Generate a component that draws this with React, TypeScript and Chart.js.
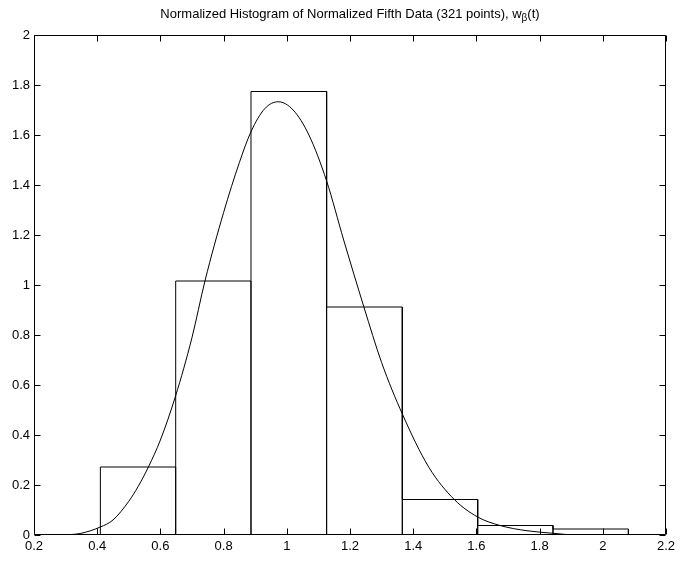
import React, { useEffect, useRef } from "react";
import { Chart, registerables } from "chart.js";

Chart.register(...registerables);

// Histogram bins (edges) and normalized heights
const binEdges = [0.41, 0.6484, 0.8867, 1.126, 1.3655, 1.6041, 1.8424, 2.081];
const binHeights = [0.272, 1.016, 1.774, 0.912, 0.142, 0.038, 0.024];

// Fitted density curve w_beta(t)
const curveX = [
  0.29, 0.346, 0.41, 0.45, 0.5, 0.53, 0.562, 0.6, 0.648, 0.7, 0.741, 0.8, 0.85,
  0.887, 0.93, 0.973, 1.02, 1.07, 1.126, 1.18, 1.244, 1.3, 1.366, 1.45, 1.53,
  1.604, 1.675, 1.76, 1.842, 1.9,
];
const curveY = [
  0, 0.006, 0.032, 0.06, 0.135, 0.195, 0.272, 0.38, 0.556, 0.79, 1.016, 1.29, 1.49,
  1.614, 1.705, 1.733, 1.7, 1.6, 1.416, 1.18, 0.912, 0.69, 0.483, 0.27, 0.142,
  0.072, 0.038, 0.017, 0.007, 0,
];

const xTicks = [0.2, 0.4, 0.6, 0.8, 1, 1.2, 1.4, 1.6, 1.8, 2, 2.2];
const yTicks = [0, 0.2, 0.4, 0.6, 0.8, 1, 1.2, 1.4, 1.6, 1.8, 2];

const titleMain = "Normalized Histogram of Normalized Fifth Data (321 points), w";
const titleSub = "\u03B2";
const titleTail = "(t)";

const FONT = "'Liberation Sans', Arial, Helvetica, sans-serif";
const TICK_LEN = 6;

const fmt = (v: number) => {
  const r = Math.round(v * 10) / 10;
  return String(r);
};

const boxPlugin = {
  id: "matlabBox",
  afterDraw(chart: any) {
    const { ctx, chartArea } = chart;
    const { left, right, top, bottom } = chartArea;
    const xs = chart.scales.x;
    const ys = chart.scales.y;
    ctx.save();
    ctx.strokeStyle = "#000";
    ctx.lineWidth = 1;
    const L = Math.round(left) + 0.5;
    const R = Math.round(right) - 0.5;
    const T = Math.round(top) + 0.5;
    const B = Math.round(bottom) - 0.5;
    ctx.beginPath();
    ctx.rect(L, T, R - L, B - T);
    ctx.stroke();
    ctx.beginPath();
    xTicks.forEach((v) => {
      const px = Math.round(xs.getPixelForValue(v)) + 0.5;
      ctx.moveTo(px, B);
      ctx.lineTo(px, B - TICK_LEN);
      ctx.moveTo(px, T);
      ctx.lineTo(px, T + TICK_LEN);
    });
    yTicks.forEach((v) => {
      const py = Math.round(ys.getPixelForValue(v)) + 0.5;
      ctx.moveTo(L, py);
      ctx.lineTo(L + TICK_LEN, py);
      ctx.moveTo(R, py);
      ctx.lineTo(R - TICK_LEN, py);
    });
    ctx.stroke();

    // Title with subscript
    const mainFont = `13px ${FONT}`;
    const subFont = `10px ${FONT}`;
    ctx.fillStyle = "#000";
    ctx.textBaseline = "alphabetic";
    ctx.textAlign = "left";
    ctx.font = mainFont;
    const w1 = ctx.measureText(titleMain).width;
    const w3 = ctx.measureText(titleTail).width;
    ctx.font = subFont;
    const w2 = ctx.measureText(titleSub).width;
    const total = w1 + w2 + w3;
    const cx = (left + right) / 2;
    let x = cx - total / 2;
    const baseY = 18;
    ctx.font = mainFont;
    ctx.fillText(titleMain, x, baseY);
    x += w1;
    ctx.font = subFont;
    ctx.fillText(titleSub, x, baseY + 3);
    x += w2;
    ctx.font = mainFont;
    ctx.fillText(titleTail, x, baseY);
    ctx.restore();
  },
};

export default function App() {
  const canvasRef = useRef<HTMLCanvasElement | null>(null);

  useEffect(() => {
    const canvas = canvasRef.current;
    if (!canvas) return;

    const histPoints: { x: number; y: number }[] = [];
    for (let i = 0; i < binHeights.length; i++) {
      histPoints.push({ x: binEdges[i], y: 0 });
      histPoints.push({ x: binEdges[i], y: binHeights[i] });
      histPoints.push({ x: binEdges[i + 1], y: binHeights[i] });
      histPoints.push({ x: binEdges[i + 1], y: 0 });
    }
    const curvePoints = curveX.map((x, i) => ({ x, y: curveY[i] }));

    const chart = new Chart(canvas, {
      type: "line",
      data: {
        datasets: [
          {
            label: "histogram",
            data: histPoints,
            borderColor: "#000",
            borderWidth: 1,
            pointRadius: 0,
            tension: 0,
            fill: false,
          },
          {
            label: "w_beta(t)",
            data: curvePoints,
            borderColor: "#000",
            borderWidth: 1,
            pointRadius: 0,
            cubicInterpolationMode: "monotone",
            fill: false,
          },
        ],
      },
      options: {
        animation: false,
        responsive: false,
        maintainAspectRatio: false,
        devicePixelRatio: 1,
        layout: { padding: { top: 35, right: 14, left: 0, bottom: 0 } },
        plugins: {
          legend: { display: false },
          tooltip: { enabled: false },
          title: { display: false },
        },
        scales: {
          x: {
            type: "linear",
            min: 0.2,
            max: 2.2,
            afterBuildTicks: (scale: any) => {
              scale.ticks = xTicks.map((v) => ({ value: v }));
            },
            afterFit: (scale: any) => {
              scale.height = 28;
            },
            grid: { display: false, drawTicks: false },
            border: { display: false },
            ticks: {
              autoSkip: false,
              maxRotation: 0,
              padding: 4,
              color: "#000",
              font: { family: FONT, size: 13 },
              callback: (v: any) => fmt(Number(v)),
            },
          },
          y: {
            type: "linear",
            min: 0,
            max: 2,
            afterBuildTicks: (scale: any) => {
              scale.ticks = yTicks.map((v) => ({ value: v }));
            },
            afterFit: (scale: any) => {
              scale.width = 34;
            },
            grid: { display: false, drawTicks: false },
            border: { display: false },
            ticks: {
              autoSkip: false,
              padding: 4,
              color: "#000",
              font: { family: FONT, size: 13 },
              callback: (v: any) => fmt(Number(v)),
            },
          },
        },
      },
      plugins: [boxPlugin],
    });

    return () => chart.destroy();
  }, []);

  return (
    <div
      style={{
        position: "absolute",
        left: 0,
        top: 0,
        width: 680,
        height: 563,
        background: "#fff",
      }}
    >
      <canvas ref={canvasRef} width={680} height={563} style={{ width: 680, height: 563 }} />
    </div>
  );
}
